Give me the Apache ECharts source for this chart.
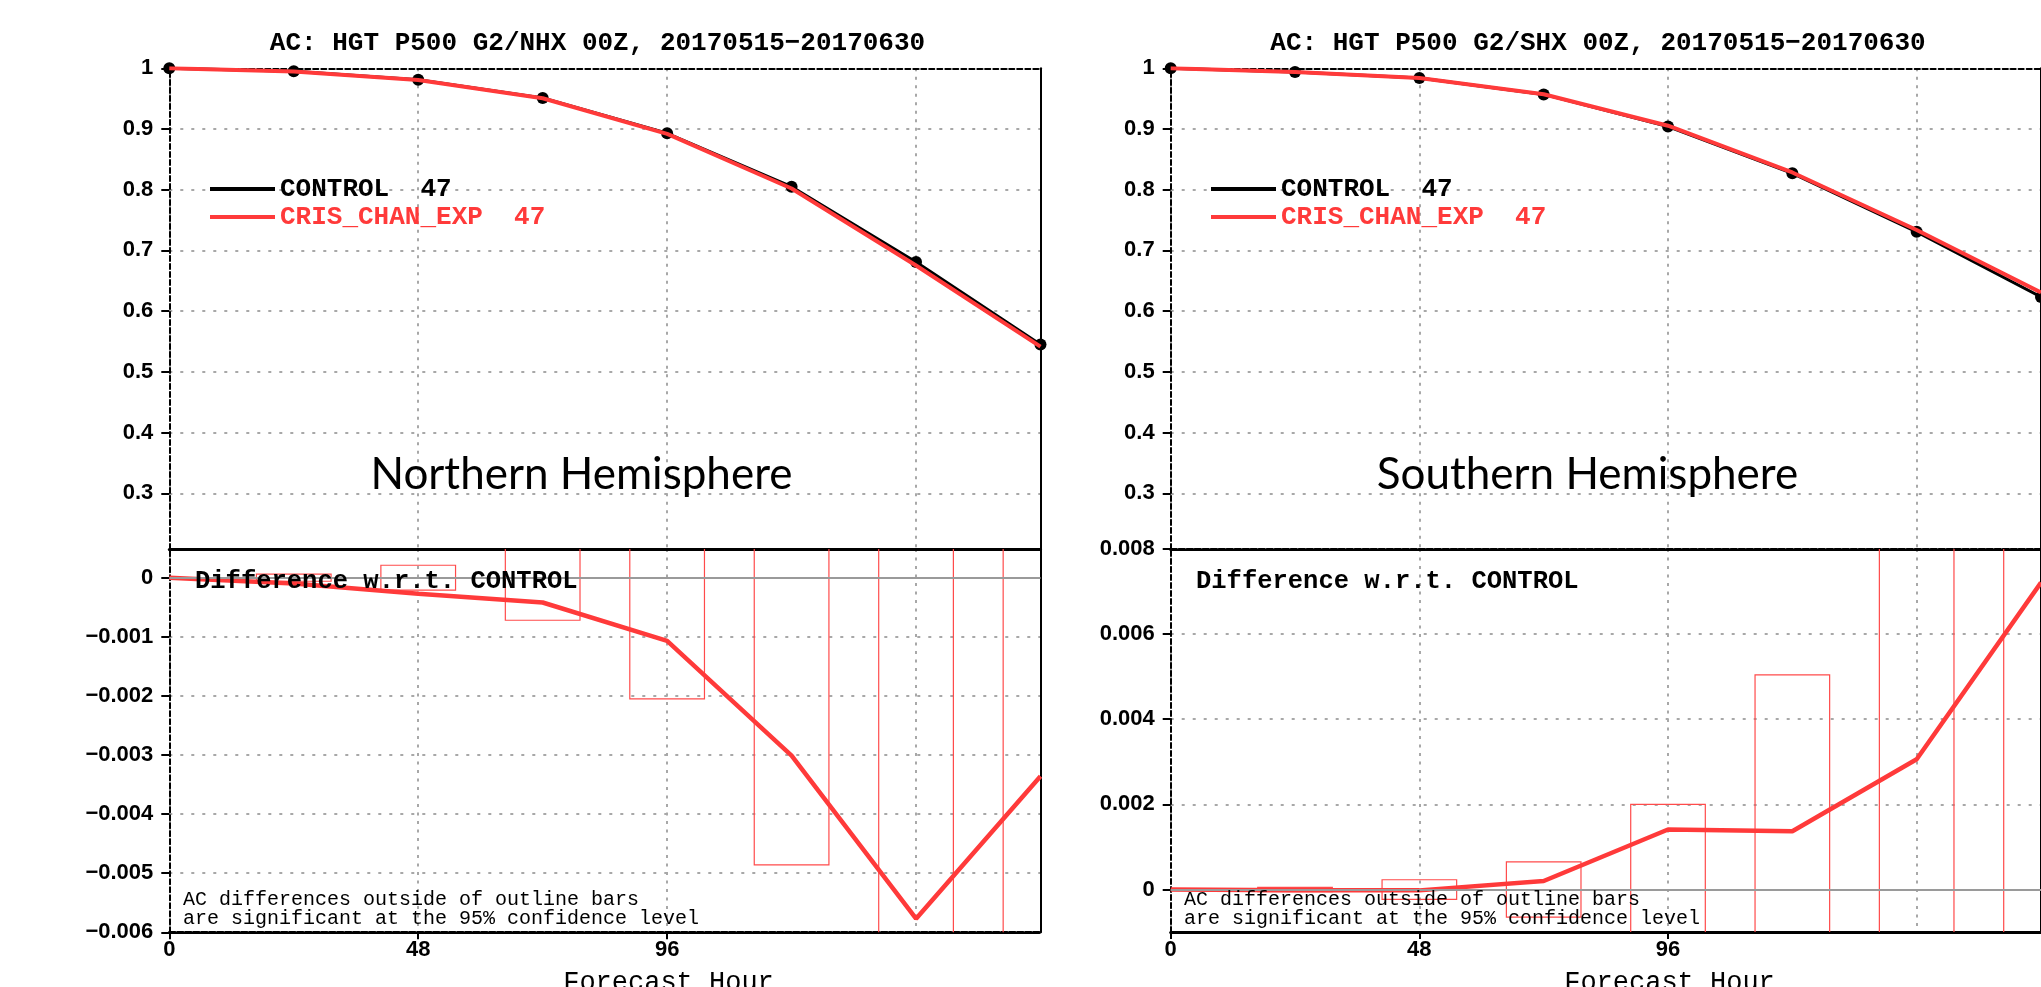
<!DOCTYPE html>
<html>
<head>
<meta charset="utf-8">
<script src="https://cdn.jsdelivr.net/npm/echarts@6/dist/echarts.min.js"></script>
<style>
html,body{margin:0;padding:0;background:#fff;}
#c{width:2041px;height:987px;}
</style>
</head>
<body>
<div id="c"></div>
<script>
// ---------------- data ----------------
const hours = [0, 24, 48, 72, 96, 120, 144, 168];
const xTickValues = [0, 48, 96, 144];

const nhxControl = [1.0, 0.995, 0.981, 0.951, 0.893, 0.805, 0.681, 0.545];
const nhxExp     = [1.0, 0.9949, 0.9807, 0.9506, 0.8919, 0.8020, 0.6752, 0.5416];
const nhxDiff    = [0, -0.0001, -0.00027, -0.00042, -0.00107, -0.00301, -0.00577, -0.00336];
const nhxSig     = [0, 0.00006, 0.00021, 0.00072, 0.00205, 0.00486, 0.0075, 0.009];

const shxControl = [1.0, 0.994, 0.984, 0.957, 0.904, 0.827, 0.7306, 0.6234];
const shxExp     = [1.0, 0.994, 0.984, 0.9572, 0.9054, 0.8284, 0.7337, 0.6306];
const shxDiff    = [0, -0.00002, -0.00002, 0.0002, 0.00141, 0.00137, 0.00306, 0.00721];
const shxSig     = [0, 0.00005, 0.00023, 0.00065, 0.002, 0.00504, 0.0095, 0.012];

const titles = ['AC: HGT P500 G2/NHX 00Z, 20170515\u221220170630',
                'AC: HGT P500 G2/SHX 00Z, 20170515\u221220170630'];
const regionNames = ['Northern Hemisphere', 'Southern Hemisphere'];
const legendNames = ['CONTROL  47', 'CRIS_CHAN_EXP  47'];

// ---------------- styling ----------------
const RED = '#ff3a3a';
const BAR_RED = '#ff4b4b';
const GRID_GRAY = '#a8a8a8';
const BAR_HALF_HOURS = 7.2;

const grids = [], xAxes = [], yAxes = [], series = [];

function fmt(v) {
  const r = Math.round(v * 1e6) / 1e6;
  return (r === 0 ? '0' : String(r)).replace('-', '\u2212');
}
function pairs(xs, ys) { return xs.map((x, i) => [x, ys[i]]); }

function addPanel(o) {
  const g = grids.length;
  grids.push({left: o.left, top: o.top, width: o.width, height: o.height,
              show: false, containLabel: false, outerBoundsMode: 'none'});
  xAxes.push({
    type: 'value', gridIndex: g, position: 'bottom', min: 0, max: 168, interval: 48,
    axisLine: {show: true, onZero: false, lineStyle: o.bottomLine},
    axisTick: {show: o.xLabels, inside: false, length: 7, customValues: xTickValues,
               lineStyle: {color: '#000', width: 2}},
    axisLabel: {show: o.xLabels, margin: 7, color: '#000', fontFamily: 'Liberation Sans',
                fontWeight: 'bold', fontSize: 22, showMaxLabel: false, customValues: xTickValues},
    splitLine: {show: true, lineStyle: {color: GRID_GRAY, width: 2, type: [3, 5.5]}}
  });
  xAxes.push({
    type: 'value', gridIndex: g, position: 'top', min: 0, max: 168,
    axisLine: {show: !!o.topLine, onZero: false, lineStyle: o.topLine || {}},
    axisTick: {show: false}, axisLabel: {show: false}, splitLine: {show: false}
  });
  yAxes.push({
    type: 'value', gridIndex: g, position: 'left', min: o.min, max: o.max,
    minInterval: o.interval, maxInterval: o.interval,
    axisLine: {show: true, onZero: false, lineStyle: o.leftLine},
    axisTick: {show: true, inside: false, length: 8, lineStyle: {color: '#000', width: 2}},
    axisLabel: {margin: 16, color: '#000', fontFamily: 'Liberation Sans', fontWeight: 'bold',
                fontSize: 22, showMinLabel: o.showMin, showMaxLabel: o.showMax, formatter: fmt},
    splitLine: {show: true, lineStyle: {color: GRID_GRAY, width: 2, type: [3, 8]}}
  });
  yAxes.push({
    type: 'value', gridIndex: g, position: 'right', min: 0, max: 1,
    axisLine: {show: true, onZero: false, lineStyle: o.rightLine},
    axisTick: {show: false}, axisLabel: {show: false}, splitLine: {show: false}
  });
  return g;
}

function addTopSeries(g, ctrl, exp) {
  series.push({
    type: 'line', name: legendNames[0], xAxisIndex: 2 * g, yAxisIndex: 2 * g,
    data: pairs(hours, ctrl), symbol: 'circle', symbolSize: 12, showSymbol: true,
    lineStyle: {color: '#000', width: 3}, itemStyle: {color: '#000'}, z: 3, animation: false
  });
  series.push({
    type: 'line', name: legendNames[1], xAxisIndex: 2 * g, yAxisIndex: 2 * g,
    data: pairs(hours, exp), symbol: 'none', showSymbol: false,
    lineStyle: {color: RED, width: 4}, itemStyle: {color: RED}, z: 4, animation: false
  });
}

function addDiffSeries(g, diff, sig, tag) {
  series.push({
    type: 'custom', name: tag + ' significance', xAxisIndex: 2 * g, yAxisIndex: 2 * g,
    clip: true, z: 2, animation: false,
    data: pairs(hours, sig),
    renderItem: function (params, api) {
      const h = api.value(0), c = api.value(1);
      if (!c) return {type: 'group', children: []};
      const p1 = api.coord([h - BAR_HALF_HOURS, c]);
      const p2 = api.coord([h + BAR_HALF_HOURS, -c]);
      return {type: 'rect',
              shape: {x: p1[0], y: p1[1], width: p2[0] - p1[0], height: p2[1] - p1[1]},
              style: {fill: 'none', stroke: BAR_RED, lineWidth: 1.2}};
    },
    markLine: {silent: true, symbol: ['none', 'none'], label: {show: false}, animation: false,
               lineStyle: {color: '#9a9a9a', width: 2, type: 'solid'}, data: [{yAxis: 0}]}
  });
  series.push({
    type: 'line', name: tag + ' difference', xAxisIndex: 2 * g, yAxisIndex: 2 * g,
    data: pairs(hours, diff), symbol: 'none', showSymbol: false,
    lineStyle: {color: RED, width: 4.5}, itemStyle: {color: RED}, z: 4, animation: false
  });
}

const dashed2 = {color: '#000', width: 2, type: [5, 3]};
const dashed3 = {color: '#000', width: 3, type: [6, 2]};
const solid2 = {color: '#000', width: 2, type: 'solid'};
const solid3 = {color: '#000', width: 3, type: 'solid'};

// Left chart (NHX)
const gL1 = addPanel({left: 169.3, top: 68.3, width: 871.2, height: 480.6, min: 0.2084, max: 1,
  interval: 0.1, showMin: false, showMax: true, xLabels: false,
  bottomLine: solid3, topLine: dashed2, leftLine: dashed2, rightLine: solid2});
const gL2 = addPanel({left: 169.3, top: 548.9, width: 871.2, height: 383.4, min: -0.006, max: 0.000487,
  interval: 0.001, showMin: true, showMax: false, xLabels: true,
  bottomLine: dashed3, topLine: null, leftLine: dashed2, rightLine: solid2});
// Right chart (SHX)
const gR1 = addPanel({left: 1170.7, top: 68.3, width: 870.3, height: 480.6, min: 0.2084, max: 1,
  interval: 0.1, showMin: false, showMax: true, xLabels: false,
  bottomLine: dashed3, topLine: dashed2, leftLine: dashed2, rightLine: solid2});
const gR2 = addPanel({left: 1170.7, top: 548.9, width: 870.3, height: 383.2, min: -0.001, max: 0.008,
  interval: 0.002, showMin: false, showMax: true, xLabels: true,
  bottomLine: solid3, topLine: null, leftLine: dashed2, rightLine: solid2});

addTopSeries(gL1, nhxControl, nhxExp);
addDiffSeries(gL2, nhxDiff, nhxSig, 'NHX');
addTopSeries(gR1, shxControl, shxExp);
addDiffSeries(gR2, shxDiff, shxSig, 'SHX');

const legendText = {fontFamily: 'Liberation Mono', fontWeight: 'bold', fontSize: 26};
function makeLegend(left) {
  return {left: left, top: 176, orient: 'vertical', padding: 0, itemWidth: 65, itemHeight: 4,
          itemGap: 2, icon: 'rect', selectedMode: false, textStyle: legendText,
          data: [{name: legendNames[0], textStyle: {color: '#000'}},
                 {name: legendNames[1], textStyle: {color: RED}}]};
}

function txt(x, y, text, st) {
  return {type: 'text', x: x, y: y, silent: true, z: 10,
          style: Object.assign({text: text, fill: '#000'}, st)};
}
const titleSt = {fontFamily: 'Liberation Mono', fontWeight: 'bold', fontSize: 26,
                 align: 'center', verticalAlign: 'middle'};
const regionSt = {fontFamily: 'Lato', fontSize: 44, align: 'center', verticalAlign: 'middle'};
const diffSt = {fontFamily: 'Liberation Mono', fontWeight: 'bold', fontSize: 25.5,
                align: 'left', verticalAlign: 'middle'};
const noteSt = {fontFamily: 'Liberation Mono', fontSize: 20, align: 'left', verticalAlign: 'middle'};
const xNameSt = {fontFamily: 'Liberation Mono', fontSize: 27, align: 'center', verticalAlign: 'top'};

const graphics = [
  txt(597.5, 43, titles[0], titleSt),
  txt(1598, 43, titles[1], titleSt),
  txt(581.5, 475, regionNames[0], regionSt),
  txt(1587.5, 475, regionNames[1], regionSt),
  txt(195, 582, 'Difference w.r.t. CONTROL', diffSt),
  txt(1196, 582, 'Difference w.r.t. CONTROL', diffSt),
  txt(183, 900, 'AC differences outside of outline bars', noteSt),
  txt(183, 919, 'are significant at the 95% confidence level', noteSt),
  txt(1184, 900, 'AC differences outside of outline bars', noteSt),
  txt(1184, 919, 'are significant at the 95% confidence level', noteSt),
  txt(668.5, 969, 'Forecast Hour', xNameSt),
  txt(1669.5, 969, 'Forecast Hour', xNameSt)
];

const chart = echarts.init(document.getElementById('c'), null, {renderer: 'canvas'});
chart.setOption({
  backgroundColor: '#fff',
  animation: false,
  grid: grids,
  xAxis: xAxes,
  yAxis: yAxes,
  legend: [makeLegend(210), makeLegend(1211)],
  graphic: graphics,
  series: series
});
</script>
</body>
</html>
